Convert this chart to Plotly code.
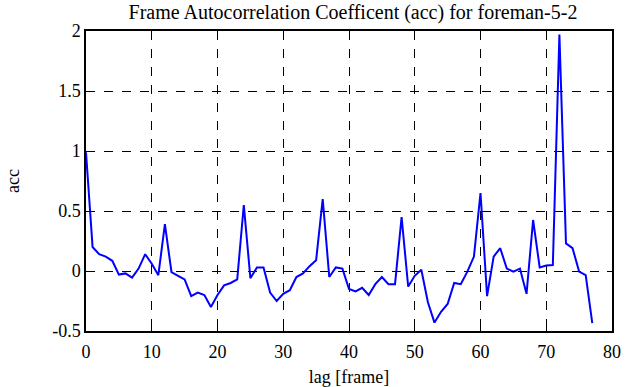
import plotly.graph_objects as go

lags = list(range(78))
acc = [0.99, 0.20, 0.14, 0.12, 0.085, -0.03, -0.02, -0.055, 0.02, 0.14,
       0.06, -0.035, 0.39, -0.01, -0.04, -0.07, -0.21, -0.18, -0.20, -0.30,
       -0.20, -0.12, -0.10, -0.07, 0.55, -0.06, 0.03, 0.03, -0.18, -0.25,
       -0.19, -0.16, -0.05, -0.02, 0.04, 0.09, 0.60, -0.05, 0.03, 0.02,
       -0.15, -0.17, -0.14, -0.20, -0.11, -0.05, -0.11, -0.11, 0.45, -0.13,
       -0.04, 0.01, -0.26, -0.43, -0.34, -0.275, -0.10, -0.11, -0.005, 0.12,
       0.65, -0.21, 0.12, 0.19, 0.02, -0.005, 0.02, -0.19, 0.425, 0.03,
       0.045, 0.05, 1.97, 0.23, 0.19, -0.005, -0.035, -0.435]

xticks = [0, 10, 20, 30, 40, 50, 60, 70, 80]
yticks = [-0.5, 0, 0.5, 1, 1.5, 2]
yticklabels = ["-0.5", "0", "0.5", "1", "1.5", "2"]

font = "Liberation Serif, Times New Roman, serif"
fsize = 18

fig = go.Figure()
fig.add_trace(go.Scatter(x=lags, y=acc, mode="lines",
                         line=dict(color="#0000ff", width=2)))

axis_common = dict(showline=True, linecolor="black", linewidth=1.5, mirror="ticks",
                   ticks="inside", ticklen=5, tickcolor="black", tickwidth=1,
                   showgrid=True, gridcolor="black", gridwidth=1, griddash="dash",
                   zeroline=False, automargin=False,
                   tickfont=dict(family=font, size=fsize, color="black"))

fig.update_layout(
    width=630, height=387,
    margin=dict(l=86, r=18, t=31, b=56, autoexpand=False),
    paper_bgcolor="white", plot_bgcolor="white",
    showlegend=False,
    title=dict(text="Frame Autocorrelation Coefficent (acc) for foreman-5-2",
               x=353 / 630, xanchor="center", xref="container", y=1 - 12/387, yanchor="middle",
               automargin=False,
               font=dict(family=font, size=20, color="black")),
    xaxis=dict(range=[0, 80], tickvals=xticks, ticklabelstandoff=4,
               title=dict(text="lag [frame]", standoff=10,
                          font=dict(family=font, size=fsize, color="black")), **axis_common),
    yaxis=dict(range=[-0.5, 2], tickvals=yticks, ticktext=yticklabels,
               title=dict(text="acc", standoff=28, font=dict(family=font, size=fsize, color="black")),
               **axis_common),
)

fig.write_html("out.html", config={"displayModeBar": False},
               post_script="document.body.style.margin='0';")
